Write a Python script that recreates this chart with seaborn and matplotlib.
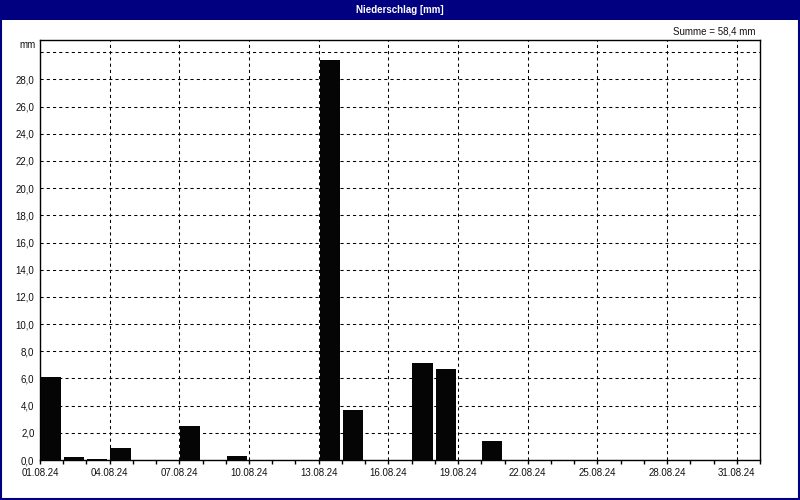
import numpy as np
import pandas as pd
import seaborn as sns
import matplotlib.pyplot as plt
from matplotlib.patches import Rectangle

# ----- Data (Niederschlag August 2024, mm per day) -----
days = [f"{d:02d}.08.24" for d in range(1, 32)]
rain = [6.1, 0.2, 0.1, 0.9, 0.0, 0.0, 2.5, 0.0, 0.3, 0.0,
        0.0, 0.0, 29.4, 3.7, 0.0, 0.0, 7.1, 6.7, 0.0, 1.4,
        0.0, 0.0, 0.0, 0.0, 0.0, 0.0, 0.0, 0.0, 0.0, 0.0, 0.0]
label_days = days[::3]
y_ticks = list(range(0, 32, 2))

NAVY = "#000080"

sns.set_style("white")
plt.rcParams["font.family"] = ["Liberation Sans", "DejaVu Sans"]

df = pd.DataFrame({"day": np.arange(len(days)), "rain": rain})
df["pos"] = df["day"] + 0.47

fig = plt.figure(figsize=(8, 5), dpi=100)
ax = fig.add_axes([0.05, 0.08, 0.90, 0.84])

sns.barplot(data=df, x="pos", y="rain", native_scale=True, width=0.87,
            color="#050505", saturation=1, linewidth=0, ax=ax, zorder=3)

ax.set_xlim(0, 31)
ax.set_ylim(0, 30.9)

# x axis: tick every day, label every third day
ax.set_xticks(range(0, 32), minor=True)
ax.set_xticks(range(0, 31, 3))
ax.set_xticklabels(label_days, fontsize=7, color="#111111")
ax.tick_params(axis="x", which="both", direction="out", length=3, width=1,
               color="black", pad=3, bottom=True)

# y axis: labels only, no tick marks
ax.set_yticks(y_ticks)
ax.set_yticklabels([f"{v:.1f}".replace(".", ",") if v < 30 else "" for v in y_ticks],
                   fontsize=7, color="#111111")
ax.tick_params(axis="y", length=0, pad=4)

ax.grid(True, which="major", color="black", linestyle=(0, (3, 3)), linewidth=0.75, zorder=1)
ax.set_axisbelow(True)
for s in ax.spines.values():
    s.set_visible(True)
    s.set_color("black")
    s.set_linewidth(1)
ax.set_xlabel("")
ax.set_ylabel("")

# unit label and total
fig.text(0.045, 0.91, "mm", ha="right", va="center", fontsize=7, color="#111111")
total = sum(rain)
fig.text(0.944, 0.938, f"Summe = {total:.1f} mm".replace(".", ","),
         ha="right", va="center", fontsize=7, color="#111111")

# title bar and frame
fig.patches.append(Rectangle((0, 0.96), 1, 0.04, transform=fig.transFigure,
                             facecolor=NAVY, edgecolor="none", zorder=0))
fig.patches.append(Rectangle((0.001, 0.002), 0.998, 0.996, transform=fig.transFigure,
                             facecolor="none", edgecolor=NAVY, linewidth=1.5, zorder=1))
fig.text(0.5, 0.98, "Niederschlag [mm]", ha="center", va="center",
         fontsize=7, fontweight="bold", color="white")

fig.savefig("out.png", dpi=100, facecolor="white")
